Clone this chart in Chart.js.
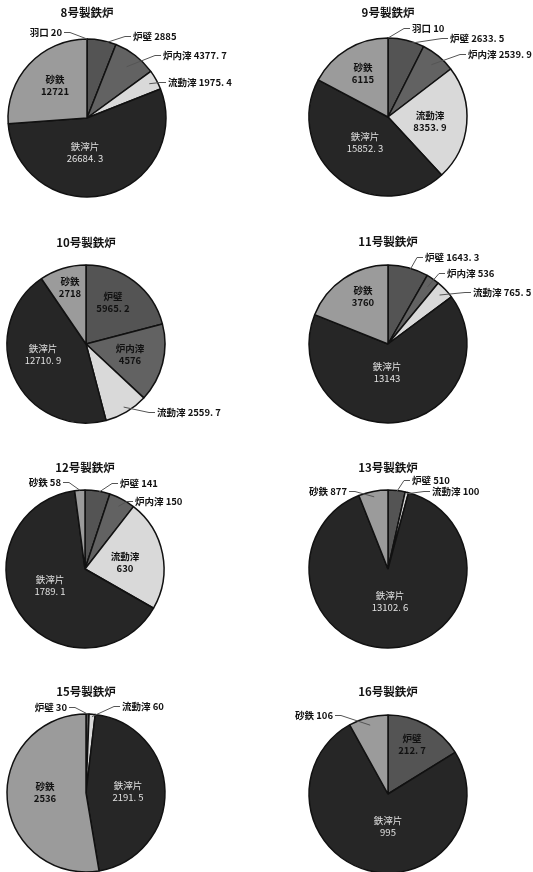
<!DOCTYPE html>
<html>
<head>
<meta charset="utf-8">
<script src="https://cdn.jsdelivr.net/npm/chart.js@4.4.1/dist/chart.umd.min.js"></script>
<style>
html, body { margin:0; padding:0; background:#fff; overflow:hidden; width:533px; height:872px; }
#wrap { position:relative; width:533px; height:872px; overflow:hidden; }
canvas { position:absolute; }
</style>
</head>
<body>
<div id="wrap"></div>
<script>
// ---- data ----
const categories = ['羽口', '炉壁', '炉内滓', '流動滓', '鉄滓片', '砂鉄'];
const furnaceNames = ['8号製鉄炉', '9号製鉄炉', '10号製鉄炉', '11号製鉄炉', '12号製鉄炉', '13号製鉄炉', '15号製鉄炉', '16号製鉄炉'];
const furnace8  = [20, 2885, 4377.7, 1975.4, 26684.3, 12721];
const furnace9  = [10, 2633.5, 2539.9, 8353.9, 15852.3, 6115];
const furnace10 = [null, 5965.2, 4576, 2559.7, 12710.9, 2718];
const furnace11 = [null, 1643.3, 536, 765.5, 13143, 3760];
const furnace12 = [null, 141, 150, 630, 1789.1, 58];
const furnace13 = [null, 510, null, 100, 13102.6, 877];
const furnace15 = [null, 30, null, 60, 2191.5, 2536];
const furnace16 = [null, 212.7, null, null, 995, 106];
const furnaceValues = [furnace8, furnace9, furnace10, furnace11, furnace12, furnace13, furnace15, furnace16];

// ---- styles / layout ----
const sliceColors = ['#8a8a8a', '#545454', '#626262', '#d9d9d9', '#262626', '#9b9b9b'];
const lightText = [false, false, false, false, true, false];
const W = 300, H = 240, R = 79;
// label specs per category: inside label, or out = outside label with leader
const panels = [
  { cx: 87, cy: 118, tdy: -105, labels: [
    {out:1, dx:-25, dy:-86, align:'right', rf:1.0},
    {out:1, dx:46, dy:-82, align:'left', rf:0.95},
    {out:1, dx:76, dy:-63, align:'left', rf:0.82},
    {out:1, dx:81, dy:-36, align:'left', rf:0.9},
    {dx:-2, dy:34},
    {dx:-32, dy:-33}]},
  { cx: 388, cy: 117, tdy: -104, labels: [
    {out:1, dx:24, dy:-89, align:'left', rf:1.0},
    {out:1, dx:62, dy:-79, align:'left', rf:0.95},
    {out:1, dx:80, dy:-63, align:'left', rf:0.86},
    {dx:42, dy:4},
    {dx:-23, dy:25},
    {dx:-25, dy:-44}]},
  { cx: 86, cy: 344, tdy: -101, labels: [
    null,
    {dx:27, dy:-42},
    {dx:44, dy:10},
    {out:1, dx:71, dy:68, align:'left', rf:0.93},
    {dx:-43, dy:10},
    {dx:-16, dy:-57}]},
  { cx: 388, cy: 344, tdy: -102, labels: [
    null,
    {out:1, dx:37, dy:-87, align:'left', rf:0.87},
    {out:1, dx:59, dy:-71, align:'left', rf:0.88},
    {out:1, dx:85, dy:-52, align:'left', rf:0.9},
    {dx:-1, dy:28},
    {dx:-25, dy:-48}]},
  { cx: 85, cy: 569, tdy: -101, labels: [
    null,
    {out:1, dx:35, dy:-86, align:'left', rf:0.97},
    {out:1, dx:50, dy:-68, align:'left', rf:0.9},
    {dx:40, dy:-7},
    {dx:-35, dy:16},
    {out:1, dx:-24, dy:-87, align:'right', rf:1.0}]},
  { cx: 388, cy: 569, tdy: -101, labels: [
    null,
    {out:1, dx:24, dy:-89, align:'left', rf:0.98},
    null,
    {out:1, dx:44, dy:-78, align:'left', rf:0.98},
    {dx:2, dy:32},
    {out:1, dx:-41, dy:-78, align:'right', rf:0.93}]},
  { cx: 86, cy: 793, tdy: -101, labels: [
    null,
    {out:1, dx:-19, dy:-86, align:'right', rf:1.0},
    null,
    {out:1, dx:36, dy:-87, align:'left', rf:0.97},
    {dx:42, dy:-2},
    {dx:-41, dy:-1}]},
  { cx: 388, cy: 794, tdy: -102, labels: [
    null,
    {dx:24, dy:-50},
    null,
    null,
    {dx:0, dy:32},
    {out:1, dx:-55, dy:-79, align:'right', rf:0.9}]}
];

const FONT = '"Noto Sans CJK JP", "Noto Sans", sans-serif';
function fmt(v) { return String(v).replace('.', '. '); }

const labelPlugin = {
  id: 'pieLabels',
  afterDatasetsDraw(chart, args, opts) {
    const ctx = chart.ctx;
    const p = opts.panel;
    const vals = opts.values;
    const meta = chart.getDatasetMeta(0);
    ctx.save();
    let cx = 0, cy = 0;
    meta.data.forEach((arc, i) => {
      const pr = arc.getProps(['x', 'y', 'startAngle', 'endAngle', 'outerRadius'], true);
      cx = pr.x; cy = pr.y;
      const spec = p.labels[i];
      if (!spec || vals[i] === null) return;
      const name = categories[i];
      const val = fmt(vals[i]);
      const tx = pr.x + spec.dx, ty = pr.y + spec.dy;
      ctx.textBaseline = 'middle';
      if (spec.out) {
        ctx.font = 'bold 9.5px ' + FONT;
        ctx.fillStyle = '#111';
        ctx.textAlign = spec.align;
        ctx.fillText(name + ' ' + val, tx, ty);
        const mid = (pr.startAngle + pr.endAngle) / 2;
        const ex = pr.x + Math.cos(mid) * spec.rf * pr.outerRadius;
        const ey = pr.y + Math.sin(mid) * spec.rf * pr.outerRadius;
        const s = spec.align === 'left' ? -1 : 1;
        ctx.beginPath();
        ctx.strokeStyle = '#555';
        ctx.lineWidth = 1;
        ctx.moveTo(tx + s * 2, ty + 0.5);
        ctx.lineTo(tx + s * 8, ty + 0.5);
        ctx.lineTo(ex, ey);
        ctx.stroke();
      } else {
        ctx.textAlign = 'center';
        if (lightText[i]) {
          ctx.font = '9.5px ' + FONT;
          ctx.fillStyle = '#e0e0e0';
        } else {
          ctx.font = 'bold 9.5px ' + FONT;
          ctx.fillStyle = '#111';
        }
        ctx.fillText(name, tx, ty - 5.5);
        ctx.fillText(val, tx, ty + 6);
      }
    });
    ctx.font = 'bold 11.5px ' + FONT;
    ctx.fillStyle = '#111';
    ctx.textAlign = 'center';
    ctx.textBaseline = 'middle';
    ctx.fillText(opts.title, cx, cy + p.tdy);
    ctx.restore();
  }
};

const wrap = document.getElementById('wrap');
panels.forEach((p, k) => {
  const c = document.createElement('canvas');
  c.width = W; c.height = H;
  c.style.width = W + 'px'; c.style.height = H + 'px';
  c.style.left = (p.cx - W / 2) + 'px';
  c.style.top = (p.cy - H / 2) + 'px';
  wrap.appendChild(c);
  new Chart(c, {
    type: 'pie',
    data: {
      labels: categories,
      datasets: [{
        data: furnaceValues[k],
        backgroundColor: sliceColors,
        borderColor: '#111',
        borderWidth: 1.5,
        radius: R
      }]
    },
    options: {
      responsive: false,
      animation: false,
      events: [],
      layout: { padding: { left: W / 2 - 90, right: W / 2 - 90, top: H / 2 - 90, bottom: H / 2 - 90 } },
      plugins: {
        legend: { display: false },
        tooltip: { enabled: false },
        title: { display: false },
        pieLabels: { panel: p, values: furnaceValues[k], title: furnaceNames[k] }
      }
    },
    plugins: [labelPlugin]
  });
});
</script>
</body>
</html>
